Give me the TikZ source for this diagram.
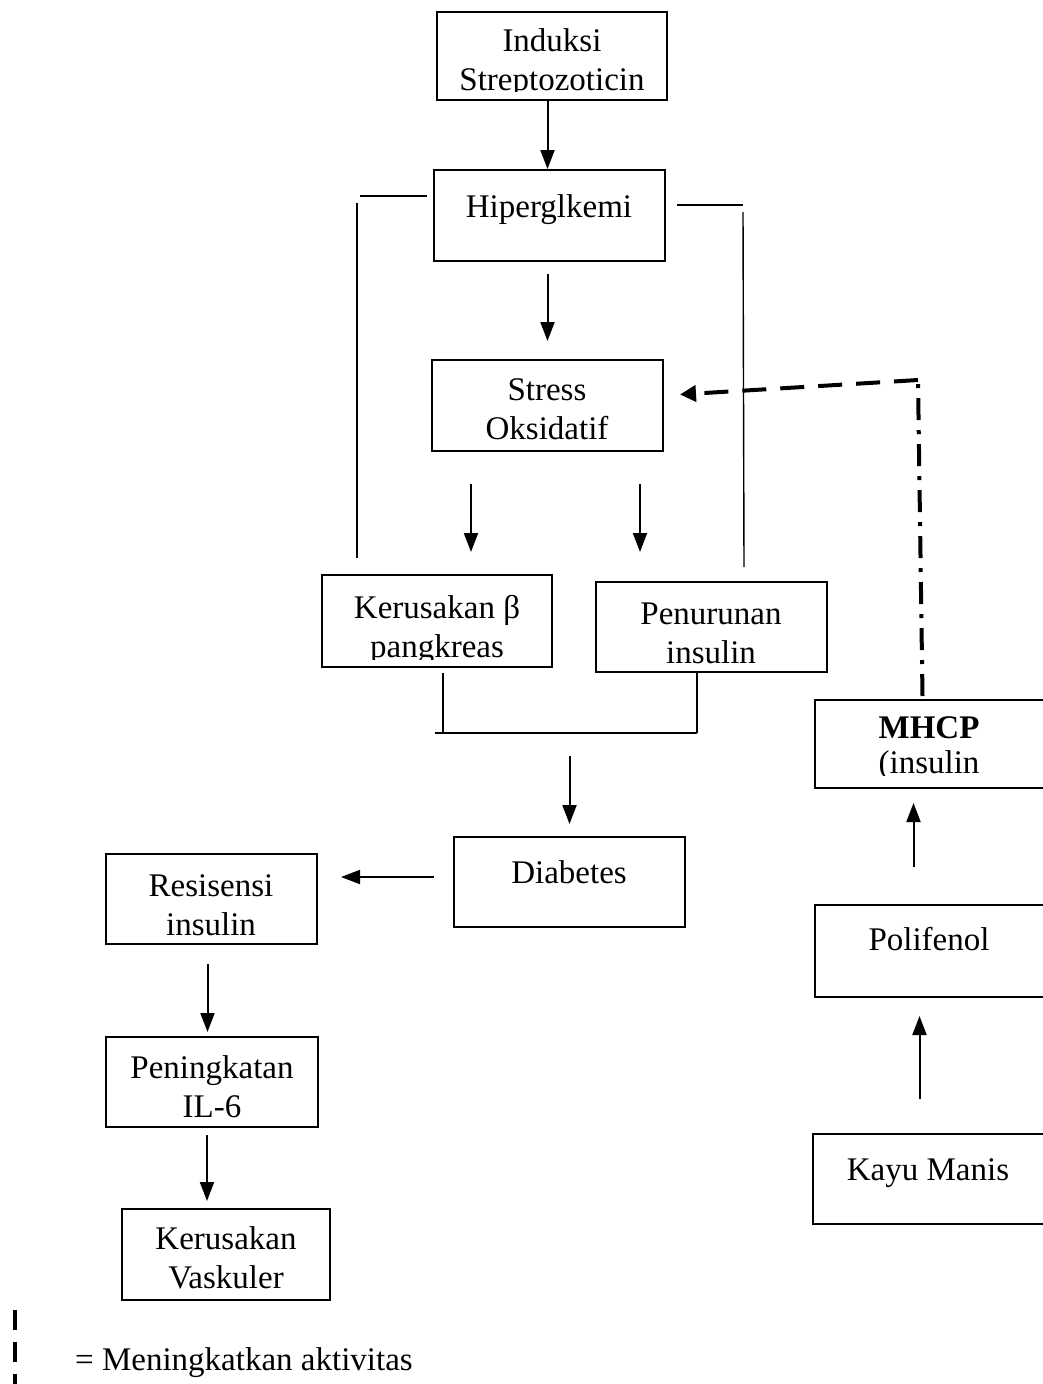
\documentclass[tikz,border=0pt]{standalone}
\usepackage{fontspec}
\setmainfont{Liberation Serif}
\usetikzlibrary{arrows.meta,calc}
\begin{document}
\begin{tikzpicture}[x=1pt,y=-1pt,
  box/.style={draw,line width=2pt,inner sep=0pt},
  txt/.style={font=\fontsize{33}{38.5}\selectfont,align=center,inner sep=0pt,anchor=base},
  arr/.style={line width=2pt,-{Triangle[length=19pt,width=14pt]}},
  thinline/.style={line width=1.4pt},
  dashedarr/.style={line width=4pt,dash pattern=on 24pt off 14pt,-{Triangle[length=16pt,width=16pt]}},
  dashdotline/.style={line width=4pt,dash pattern=on 22pt off 10pt on 4pt off 10pt}]
\useasboundingbox (0,0) rectangle (1043,1384);

% boxes
\node[box,minimum width=230pt,minimum height=88pt] (ind) at (552,56) {};
\node[box,minimum width=231pt,minimum height=91pt] (hip) at (549.5,215.5) {};
\node[box,minimum width=231pt,minimum height=91pt] (str) at (547.5,405.5) {};
\node[box,minimum width=230pt,minimum height=92pt] (ker) at (437,621) {};
\node[box,minimum width=231pt,minimum height=90pt] (pen) at (711.5,627) {};
\node[box,minimum width=231pt,minimum height=90pt] (dia) at (569.5,882) {};
\node[box,minimum width=211pt,minimum height=90pt] (res) at (211.5,899) {};
\node[box,minimum width=212pt,minimum height=90pt] (ilx) at (212,1082) {};
\node[box,minimum width=208pt,minimum height=91pt] (vas) at (226,1254.5) {};
\node[box,minimum width=235pt,minimum height=88pt] (mhcp) at (932.5,744) {};
\node[box,minimum width=235pt,minimum height=92pt] (pol) at (932.5,951) {};
\node[box,minimum width=237pt,minimum height=90pt] (kay) at (931.5,1179) {};

% texts (anchor base = baseline of the last line)
\begin{scope}
  \clip (437,12) rectangle (667,91);
  \node[txt] (tind) at (552,90) {Induksi\\Streptozoticin};
\end{scope}
\node[txt] (thip) at (549,217) {Hiperglkemi};
\node[txt] (tstr) at (547,439) {Stress\\Oksidatif};
\begin{scope}
  \clip (322,575) rectangle (552,659);
  \node[txt] (tker) at (437,657) {Kerusakan β\\pangkreas};
\end{scope}
\node[txt] (tpen) at (711,663) {Penurunan\\insulin};
\node[txt] (tdia) at (569,883) {Diabetes};
\node[txt] (tres) at (211,935) {Resisensi\\insulin};
\node[txt] (tilx) at (212,1117) {Peningkatan\\IL-6};
\node[txt] (tvas) at (226,1288) {Kerusakan\\Vaskuler};
\begin{scope}
  \clip (815,700) rectangle (1043,775);
  \node[txt] (tmhcp) at (929,773) {\textbf{MHCP}\\[-4pt](insulin};
\end{scope}
\node[txt] (tpol) at (929,950) {Polifenol};
\node[txt] (tkay) at (928,1180) {Kayu Manis};
\node[txt,anchor=base west] (tleg) at (75,1370) {= Meningkatkan aktivitas};

% arrows
\coordinate (a1) at ($(hip.north)+(-2,0)$);
\draw[arr] (ind.south -| a1) -- (a1);
\draw[arr] ($(hip.south)+(-2,12)$) -- ($(str.north)+(0,-18)$);
\draw[arr] ($(str.south west)+(40,32)$) -- ($(str.south west)+(40,100)$);
\draw[arr] ($(str.south west)+(209,32)$) -- ($(str.south west)+(209,100)$);
\coordinate (mL) at (443,733);
\coordinate (mR) at (697,733);
\draw[thinline] ($(ker.south)+(6,5)$) -- (mL);
\draw[thinline] (pen.south -| mR) -- (mR);
\draw[thinline] ($(mL)+(-8,0)$) -- (mR);
\draw[arr] ($(dia.north)+(0,-80)$) -- ($(dia.north)+(0,-12)$);
\draw[arr] ($(dia.west)+(-19,-5)$) -- ($(res.east)+(23,-22)$);
\coordinate (a2) at ($(res.south)+(-4,19)$);
\draw[arr] (a2) -- ($(ilx.north -| a2)+(0,-4)$);
\coordinate (a3) at ($(ilx.south)+(-5,7)$);
\draw[arr] (a3) -- ($(vas.north -| a3)+(0,-7)$);
\coordinate (a4) at ($(pol.north)+(-19,-37)$);
\draw[arr] (a4) -- ($(mhcp.south -| a4)+(0,14)$);
\coordinate (a5) at ($(kay.north)+(-12,-34)$);
\draw[arr] (a5) -- ($(pol.south -| a5)+(0,18)$);

% side lines
\coordinate (lh1) at (427,196);
\coordinate (lh2) at (360,196);
\coordinate (lv1) at (357,203);
\coordinate (lv2) at (357,558);
\coordinate (rh1) at (677,205);
\coordinate (rh2) at (743,205);
\coordinate (rv1) at (743,212);
\coordinate (rv2) at (744,567);
\draw[thinline] (lh1) -- (lh2);
\draw[thinline] (lv1) -- (lv2);
\draw[thinline] (rh1) -- (rh2);
\draw[thinline] (rv1) -- (rv2);

% MHCP feedback
\coordinate (corner) at (918,380);
\draw[dashdotline] ($(mhcp.north)+(-10,-3)$) -- (corner);
\draw[dashedarr] (corner) -- ($(str.east)+(16,-11)$);

% legend
\coordinate (lg1) at (15,1310);
\coordinate (lg2) at (15,1390);
\draw[line width=3.5pt,dash pattern=on 20pt off 12pt] (lg1) -- (lg2);
\end{tikzpicture}
\end{document}
